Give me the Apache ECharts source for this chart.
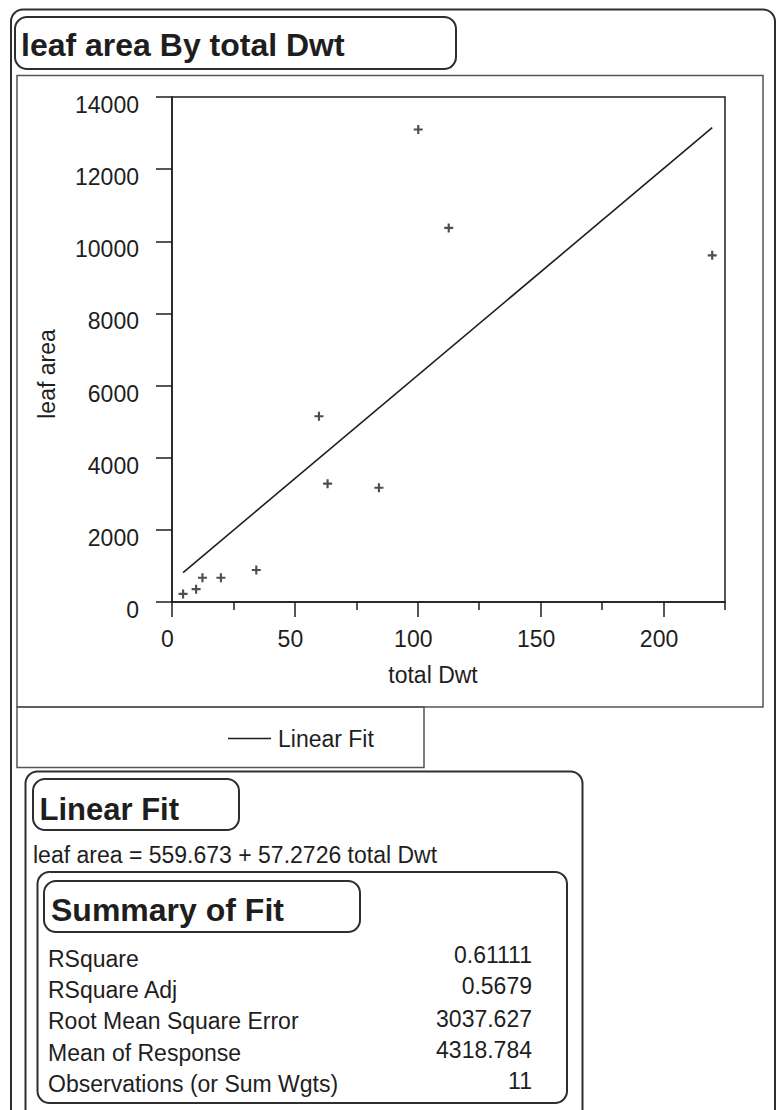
<!DOCTYPE html>
<html>
<head>
<meta charset="utf-8">
<title>leaf area By total Dwt</title>
<script src="https://cdn.jsdelivr.net/npm/echarts@6/dist/echarts.min.js"></script>
<style>
  html, body { margin: 0; padding: 0; background: #ffffff; }
  #chart { width: 779px; height: 1110px; }
</style>
</head>
<body>
<div id="chart"></div>
<script>
// Observations: total dry weight against leaf area
const totalDwt = [4.5, 9.8, 12.4, 19.9, 34.3, 59.8, 63.3, 84.2, 100.2, 112.6, 219.8];
const leafArea = [224, 355, 673, 673, 888, 5150, 3280, 3168, 13100, 10370, 9611];

// Linear fit: leaf area = intercept + slope * total Dwt
const fitIntercept = 559.673;
const fitSlope = 57.2726;

// Axis ticks
const xMajorTicks = [0, 50, 100, 150, 200];
const xMinorTicks = [25, 75, 125, 175, 225];
const yTicks = [0, 2000, 4000, 6000, 8000, 10000, 12000, 14000];

// Summary of Fit table
const summaryLabels = ['RSquare', 'RSquare Adj', 'Root Mean Square Error', 'Mean of Response', 'Observations (or Sum Wgts)'];
const summaryValues = ['0.61111', '0.5679', '3037.627', '4318.784', '11'];

const FONT = "'Liberation Sans', Arial, Helvetica, sans-serif";
const INK = '#1e1e1e';
const FRAME = '#2e2e2e';

const points = totalDwt.map((x, i) => [x, leafArea[i]]);
const xLo = Math.min(...totalDwt);
const xHi = Math.max(...totalDwt);
const fitLine = [xLo, xHi].map(x => [x, fitIntercept + fitSlope * x]);

// Plus sign used as the point marker
const plusSymbol = 'path://M3.8,0H6.2V3.8H10V6.2H6.2V10H3.8V6.2H0V3.8H3.8Z';

function box(x, y, w, h, r, lw, color) {
  return {
    type: 'rect', silent: true, z: 0,
    shape: { x: x, y: y, width: w, height: h, r: r },
    style: { fill: 'none', stroke: color || FRAME, lineWidth: lw }
  };
}
function label(text, x, y, size, opts) {
  opts = opts || {};
  return {
    type: 'text', silent: true, z: 5,
    x: x, y: y, rotation: opts.rotation || 0,
    style: {
      text: text, x: 0, y: 0,
      fill: INK,
      font: (opts.bold ? 'bold ' : '') + size + 'px ' + FONT,
      align: opts.align || 'left',
      verticalAlign: 'middle'
    }
  };
}

const rowCap = [959, 990, 1021, 1053, 1084];
const valCap = [955, 986, 1019, 1050, 1081];

const graphics = [
  // outer report frame
  box(11, 9.5, 764, 1200, [12, 12, 0, 0], 2),
  // title bar
  box(15, 17, 441, 52, 12, 2),
  label('leaf area By total Dwt', 21, 45, 32, { bold: true }),
  // frame round the plot
  box(17, 75.5, 746, 631.5, 0, 1.5, '#555555'),
  // legend frame
  box(17, 707, 407, 60.5, 0, 1.5, '#555555'),
  // axis titles
  label('total Dwt', 433, 675, 23, { align: 'center' }),
  label('leaf area', 47, 374, 23, { align: 'center', rotation: Math.PI / 2 }),
  // Linear Fit outline
  box(25.5, 771.5, 557, 500, [12, 12, 0, 0], 2),
  box(33, 779, 206, 51, 12, 2),
  label('Linear Fit', 39.5, 809, 31, { bold: true }),
  label('leaf area = ' + fitIntercept + ' + ' + fitSlope + ' total Dwt', 33, 855, 23),
  // Summary of Fit outline
  box(37.5, 872, 529.5, 231, 12, 2),
  box(44, 881, 316, 51, 12, 2),
  label('Summary of Fit', 51, 910, 32, { bold: true })
];
summaryLabels.forEach((t, i) => graphics.push(label(t, 48, rowCap[i], 23)));
summaryValues.forEach((t, i) => graphics.push(label(t, 532, valCap[i], 23, { align: 'right' })));

const chart = echarts.init(document.getElementById('chart'), null, { renderer: 'svg' });

chart.setOption({
  animation: false,
  backgroundColor: '#ffffff',
  grid: {
    left: 172, top: 97, width: 553, height: 505,
    show: true, borderColor: INK, borderWidth: 1.5, backgroundColor: 'transparent'
  },
  legend: {
    data: [{ name: 'Linear Fit', icon: 'path://M0,0H44V1.6H0Z' }],
    left: 223, top: 722,
    itemWidth: 43, itemHeight: 2,
    textStyle: { fontFamily: FONT, fontSize: 23, color: INK, padding: [0, 0, 0, 2] }
  },
  xAxis: [
    {
      type: 'value', min: 0, max: 225, position: 'bottom',
      axisLine: { show: true, lineStyle: { color: INK, width: 1.5 } },
      axisTick: { show: true, length: 15, customValues: xMajorTicks, lineStyle: { color: INK, width: 1.5 } },
      axisLabel: {
        customValues: xMajorTicks, margin: 25, padding: [0, 9, 0, 0],
        fontFamily: FONT, fontSize: 23, color: INK
      },
      splitLine: { show: false }
    },
    {
      type: 'value', min: 0, max: 225, position: 'bottom',
      axisLine: { show: false },
      axisTick: { show: true, length: 8, customValues: xMinorTicks, lineStyle: { color: INK, width: 1.5 } },
      axisLabel: { show: false },
      splitLine: { show: false }
    }
  ],
  yAxis: {
    type: 'value', min: 0, max: 14000, interval: 2000,
    axisLine: { show: true, lineStyle: { color: INK, width: 1.5 } },
    axisTick: { show: true, length: 16, customValues: yTicks, lineStyle: { color: INK, width: 1.5 } },
    axisLabel: {
      customValues: yTicks, margin: 33,
      verticalAlign: 'top', lineHeight: 16,
      formatter: v => String(v),
      fontFamily: FONT, fontSize: 23, color: INK
    },
    splitLine: { show: false }
  },
  series: [
    {
      name: 'leaf area',
      type: 'scatter',
      xAxisIndex: 0,
      data: points,
      symbol: plusSymbol,
      symbolSize: 9,
      itemStyle: { color: '#222222' },
      z: 4
    },
    {
      name: 'Linear Fit',
      type: 'line',
      xAxisIndex: 0,
      data: fitLine,
      symbol: 'none',
      itemStyle: { color: INK },
      lineStyle: { color: INK, width: 1.6 },
      z: 3
    }
  ],
  graphic: { elements: graphics }
});
</script>
</body>
</html>
